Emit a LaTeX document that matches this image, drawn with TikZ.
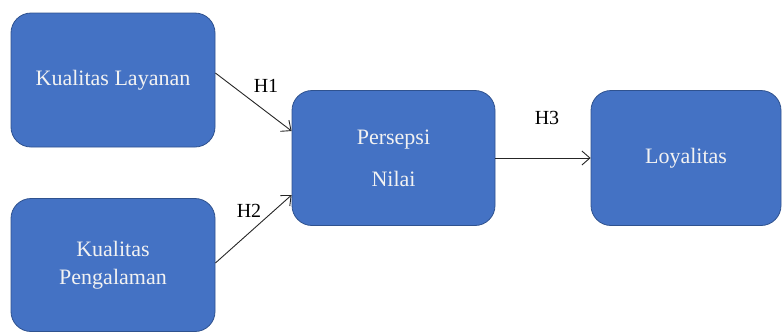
\documentclass[tikz,border=0pt]{standalone}
\usepackage{fontspec}
\setmainfont{Liberation Serif}[Extension=.ttf,UprightFont=LiberationSerif-Regular,BoldFont=LiberationSerif-Bold]
\usetikzlibrary{arrows.meta,calc}
\definecolor{boxfill}{HTML}{4472C4}
\definecolor{boxline}{HTML}{2F528F}
\definecolor{boxtext}{HTML}{F2F2F2}
\begin{document}
\begin{tikzpicture}[x=1pt,y=-1pt,
  box/.style={draw=boxline,line width=0.8pt,fill=boxfill,rounded corners=20pt,
    text=boxtext,align=center,inner sep=0pt,font=\fontsize{22}{28}\selectfont},
  conn/.style={draw=black!85,line width=0.9pt,-{Straight Barb[length=8pt,width=14pt]}},
  hlab/.style={font=\fontsize{20}{24}\selectfont,text=black}]
\useasboundingbox (0,0) rectangle (782,333);
\node[box,minimum width=204pt,minimum height=134pt] (b1) at (113,80) {Kualitas Layanan};
\node[box,minimum width=204pt,minimum height=133pt,font=\fontsize{22}{28}\selectfont] (b2) at (113,265) {Kualitas\\Pengalaman};
\node[box,minimum width=203pt,minimum height=135pt,font=\fontsize{22}{42}\selectfont] (b3) at (393.5,158) {Persepsi\\Nilai};
\node[box,minimum width=190pt,minimum height=135pt] (b4) at (686,158) {Loyalitas};
\draw[conn] ($(b1.east)+(0,-7)$) -- ($(b3.west)+(0,-27)$);
\draw[conn] ($(b2.east)+(0,-2)$) -- ($(b3.west)+(0,37)$);
\draw[conn] (b3.east) -- (b4.west);
\node[hlab] (h1) at (266,86) {H1};
\node[hlab] (h2) at (249,211) {H2};
\node[hlab] (h3) at (547,118) {H3};
\end{tikzpicture}
\end{document}
